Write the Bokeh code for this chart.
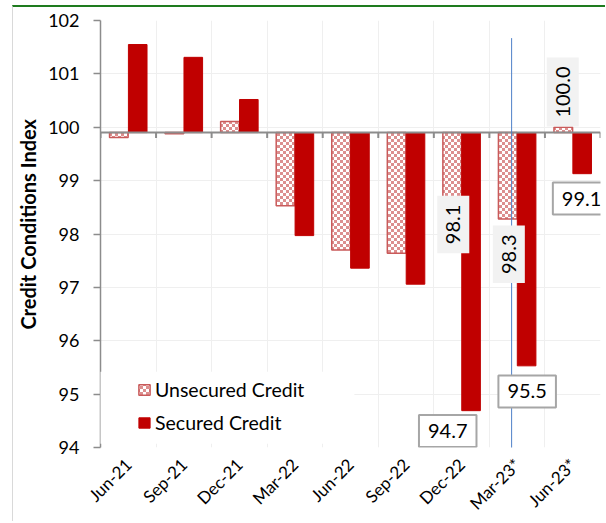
import math, zlib, struct, base64
from bokeh.plotting import figure
from bokeh.models import (FixedTicker, Span, Label, Arrow, BoxAnnotation, ImageURLTexture,
                          ColumnDataSource, Legend, LegendItem)
from bokeh.core.properties import value
from bokeh.embed import file_html
from bokeh.resources import INLINE

# ---------------- data ----------------
quarters = ["Jun-21", "Sep-21", "Dec-21", "Mar-22", "Jun-22", "Sep-22", "Dec-22", "Mar-23*", "Jun-23*"]
unsecured = [99.81, 99.88, 100.11, 98.53, 97.70, 97.64, 98.10, 98.28, 100.0]
secured = [101.55, 101.31, 100.52, 97.97, 97.36, 97.06, 94.69, 95.53, 99.13]
y_ticks = [94, 95, 96, 97, 98, 99, 100, 101, 102]
base_value = 99.9
forecast_divider = 7.4

RED = "#c00000"
UNSEC_LINE = "#c95a5a"
AXIS = "#8c8c8c"
GRID = "#efefef"
FONT = "Lato"


def checker_png(size=3, c1=(220, 143, 143), c2=(255, 255, 255)):
    n = size * 2
    raw = b""
    for yy in range(n):
        row = b"\x00"
        for xx in range(n):
            c = c1 if ((xx // size) + (yy // size)) % 2 == 0 else c2
            row += bytes(c)
        raw += row

    def chunk(t, d):
        return struct.pack(">I", len(d)) + t + d + struct.pack(">I", zlib.crc32(t + d) & 0xffffffff)

    png = (b"\x89PNG\r\n\x1a\n" + chunk(b"IHDR", struct.pack(">IIBBBBB", n, n, 8, 2, 0, 0, 0))
           + chunk(b"IDAT", zlib.compress(raw)) + chunk(b"IEND", b""))
    return "data:image/png;base64," + base64.b64encode(png).decode()


n = len(quarters)
idx = list(range(n))
src = ColumnDataSource(dict(
    xu=[i + 0.33 for i in idx], xs=[i + 0.67 for i in idx],
    u_top=[max(v, base_value) for v in unsecured], u_bot=[min(v, base_value) for v in unsecured],
    s_top=[max(v, base_value) for v in secured], s_bot=[min(v, base_value) for v in secured],
))

p = figure(width=593, height=516, x_range=(0, n), y_range=(94, 102),
           output_backend="svg", toolbar_location=None,
           min_border_left=83, min_border_right=6, min_border_top=13, min_border_bottom=76)
p.styles = {"margin-top": "5px", "margin-left": "12px",
            "border-top": "2px solid #1e7b1e", "border-left": "1px solid #d9d9d9"}
p.outline_line_color = None
p.background_fill_color = "white"
p.border_fill_color = "white"

# grids
p.xgrid.ticker = FixedTicker(ticks=list(range(n + 1)))
p.ygrid.ticker = FixedTicker(ticks=y_ticks)
p.xgrid.grid_line_color = GRID
p.ygrid.grid_line_color = GRID

# y axis
p.yaxis.ticker = FixedTicker(ticks=y_ticks)
p.yaxis.axis_line_color = AXIS
p.yaxis.axis_line_width = 1.5
p.yaxis.major_tick_line_color = AXIS
p.yaxis.major_tick_line_width = 1.5
p.yaxis.major_tick_out = 7
p.yaxis.major_tick_in = 0
p.yaxis.minor_tick_line_color = None
p.yaxis.major_label_standoff = 14
p.yaxis.major_label_text_font = FONT
p.yaxis.major_label_text_font_size = "18px"
p.yaxis.major_label_text_color = "black"
p.yaxis.axis_label = "\u00a0" * 4 + "Credit Conditions Index"
p.yaxis.axis_label_text_font = FONT
p.yaxis.axis_label_text_font_style = "bold"
p.yaxis.axis_label_text_font_size = "20px"
p.yaxis.axis_label_text_color = "black"
p.yaxis.axis_label_standoff = 5

# x axis (labels only, at the bottom)
p.xaxis.ticker = FixedTicker(ticks=[i + 0.5 for i in idx])
p.xaxis.major_label_overrides = {i + 0.5: q for i, q in zip(idx, quarters)}
p.xaxis.axis_line_color = None
p.xaxis.major_tick_line_color = None
p.xaxis.minor_tick_line_color = None
p.xaxis.major_label_orientation = math.pi / 4
p.xaxis.major_label_standoff = 8
p.xaxis.major_label_text_font = FONT
p.xaxis.major_label_text_font_size = "17px"
p.xaxis.major_label_text_color = "black"

texture = ImageURLTexture(url=checker_png())
ru = p.vbar(x="xu", width=0.335, top="u_top", bottom="u_bot", source=src,
            fill_color="white", hatch_pattern=value("checker"), hatch_extra={"checker": texture},
            line_color=UNSEC_LINE, line_width=1.5)
rs = p.vbar(x="xs", width=0.335, top="s_top", bottom="s_bot", source=src,
            fill_color=RED, line_color=RED, line_width=1)

# horizontal category axis crossing at base value, with ticks at category boundaries
tick_len = 0.1
p.segment(x0=list(range(n + 1)), y0=[base_value] * (n + 1), x1=list(range(n + 1)),
          y1=[base_value - tick_len] * (n + 1), line_color=AXIS, line_width=2)
p.add_layout(Span(location=base_value, dimension="width", line_color=AXIS, line_width=2))

# forecast divider line
p.add_layout(Arrow(end=None, x_start=forecast_divider, y_start=101.67,
                   x_end=forecast_divider, y_end=93.61, line_color="#4f81c8", line_width=1))

# legend background (covers axis line + grid like the original)
p.add_layout(BoxAnnotation(left=-0.07, right=4.57, bottom=94.07, top=95.42,
                           fill_color="white", fill_alpha=1, line_color=None))

legend = Legend(items=[LegendItem(label="Unsecured Credit", renderers=[ru]),
                       LegendItem(label="Secured Credit", renderers=[rs])],
                location=(37, 13), orientation="vertical",
                background_fill_alpha=0, border_line_color=None,
                padding=0, margin=0, spacing=10,
                glyph_width=14, glyph_height=13, label_height=20, label_standoff=4,
                label_text_font=FONT, label_text_font_size="19.5px", label_text_color="black")
p.add_layout(legend)

# value labels
grey_box = dict(background_fill_color="#f2f2f2", background_fill_alpha=1, border_line_color=None)
framed_box = dict(background_fill_color="white", background_fill_alpha=1,
                  border_line_color="#a6a6a6", border_line_width=2)
label_specs = [
    ("100.0", 8.32, 100.66, math.pi / 2, grey_box),
    ("98.1", 6.35, 98.18, math.pi / 2, grey_box),
    ("98.3", 7.35, 97.62, math.pi / 2, grey_box),
    ("99.1", 8.66, 98.665, 0, framed_box),
    ("95.5", 7.68, 95.05, 0, framed_box),
    ("94.7", 6.25, 94.31, 0, framed_box),
]
for txt, x, y, ang, box in label_specs:
    p.add_layout(Label(x=x, y=y, text=txt, angle=ang, text_align="center", text_baseline="middle",
                       text_font=FONT, text_font_size="20px", text_color="black", padding=9, **box))

open("out.html", "w").write(file_html(p, INLINE))
